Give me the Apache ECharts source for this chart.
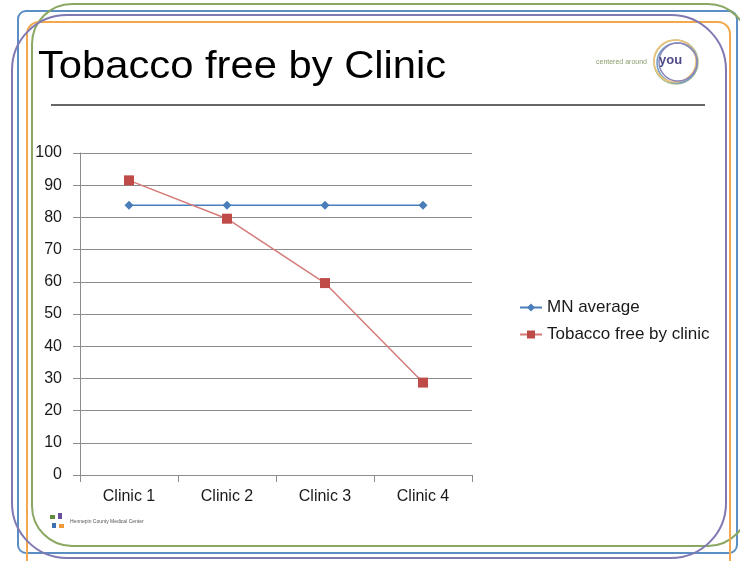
<!DOCTYPE html>
<html>
<head>
<meta charset="utf-8">
<script src="https://cdn.jsdelivr.net/npm/echarts@6/dist/echarts.min.js"></script>
<style>
html,body{margin:0;padding:0;background:#fff;}
#c{width:740px;height:561px;}
</style>
</head>
<body>
<div id="c"></div>
<script>
var categories = ['Clinic 1', 'Clinic 2', 'Clinic 3', 'Clinic 4'];
var mnAverage = [83.8, 83.8, 83.8, 83.8];
var tobaccoFree = [91.5, 79.6, 59.6, 28.7];
var seriesNames = ['MN average', 'Tobacco free by clinic'];
var titleText = 'Tobacco free by Clinic';

var chart = echarts.init(document.getElementById('c'));
var FONT = 'Liberation Sans';

function frame(x1, y1, x2, y2, r, color) {
  return {
    type: 'rect', silent: true, z: 1,
    shape: { x: x1, y: y1, width: x2 - x1, height: y2 - y1, r: r },
    style: { fill: 'none', stroke: color, lineWidth: 2 }
  };
}
function ring(cx, cy, r, color) {
  return {
    type: 'circle', silent: true, z: 2,
    shape: { cx: cx, cy: cy, r: r },
    style: { fill: 'none', stroke: color, lineWidth: 1.5 }
  };
}

chart.setOption({
  animation: false,
  backgroundColor: '#ffffff',
  textStyle: { fontFamily: FONT },
  graphic: [
    frame(18, 11, 737, 553, 8, '#5b8ec4'),
    frame(32, 4, 748, 546, 40, '#8ba863'),
    frame(27, 22, 730, 572, 12, '#f2a94e'),
    frame(12, 15, 726, 558, 55, '#7f78b3'),
    {
      type: 'text', silent: true, z: 5,
      x: 38, y: 48,
      style: { text: titleText, font: '39px "Liberation Sans"', fill: '#000000' },
      scaleX: 1.07
    },
    {
      type: 'line', silent: true, z: 5,
      shape: { x1: 51, y1: 105, x2: 705, y2: 105 },
      style: { stroke: '#666666', lineWidth: 2 }
    },
    ring(676, 62, 22, '#a9c08a'),
    ring(677, 63, 20, '#6f9cc4'),
    ring(675, 61, 21, '#f0c27a'),
    ring(678, 62, 19, '#8c86bb'),
    {
      type: 'text', silent: true, z: 6, left: 596, top: 59,
      style: { text: 'centered around', font: '7px "Liberation Sans"', fill: '#8aa070' }
    },
    {
      type: 'text', silent: true, z: 6, left: 659, top: 54,
      style: { text: 'you', font: 'bold 13px "Liberation Sans"', fill: '#4e4a8a' }
    },
    { type: 'rect', silent: true, z: 6, shape: { x: 50, y: 515, width: 5, height: 4 }, style: { fill: '#5f8d3a' } },
    { type: 'rect', silent: true, z: 6, shape: { x: 58, y: 513, width: 4, height: 6 }, style: { fill: '#6a4f9a' } },
    { type: 'rect', silent: true, z: 6, shape: { x: 52, y: 523, width: 4, height: 5 }, style: { fill: '#3d6fb5' } },
    { type: 'rect', silent: true, z: 6, shape: { x: 59, y: 524, width: 5, height: 4 }, style: { fill: '#ef9a3a' } },
    {
      type: 'text', silent: true, z: 6, left: 70, top: 519,
      style: { text: 'Hennepin County Medical Center', font: '5px "Liberation Sans"', fill: '#555555' }
    }
  ],
  legend: {
    orient: 'vertical',
    left: 514,
    top: 294,
    itemWidth: 22,
    itemHeight: 10,
    itemGap: 10,
    textStyle: { fontSize: 17, color: '#1a1a1a', fontFamily: FONT },
    data: seriesNames
  },
  grid: { left: 80, right: 268, top: 153, bottom: 86 },
  xAxis: {
    type: 'category',
    data: categories,
    boundaryGap: true,
    axisLine: { lineStyle: { color: '#8c8c8c', width: 1 } },
    axisTick: { show: true, length: 7, alignWithLabel: false, lineStyle: { color: '#8c8c8c' } },
    axisLabel: { margin: 14, fontSize: 16, color: '#1a1a1a', fontFamily: FONT }
  },
  yAxis: {
    type: 'value',
    min: 0, max: 100, interval: 10,
    axisLine: { show: true, lineStyle: { color: '#8c8c8c', width: 1 } },
    axisTick: { show: true, length: 7, lineStyle: { color: '#8c8c8c' } },
    axisLabel: { margin: 18, fontSize: 16, color: '#1a1a1a', fontFamily: FONT },
    splitLine: { show: true, lineStyle: { color: '#8c8c8c', width: 1 } }
  },
  series: [
    {
      name: seriesNames[0],
      type: 'line',
      data: mnAverage,
      symbol: 'diamond',
      symbolSize: 9,
      itemStyle: { color: '#4a7ebb' },
      lineStyle: { color: '#4a7ebb', width: 1.5 },
      z: 3
    },
    {
      name: seriesNames[1],
      type: 'line',
      data: tobaccoFree,
      symbol: 'rect',
      symbolSize: 10,
      itemStyle: { color: '#be4b48' },
      lineStyle: { color: '#d47b78', width: 1.5 },
      z: 4
    }
  ]
});
</script>
</body>
</html>
